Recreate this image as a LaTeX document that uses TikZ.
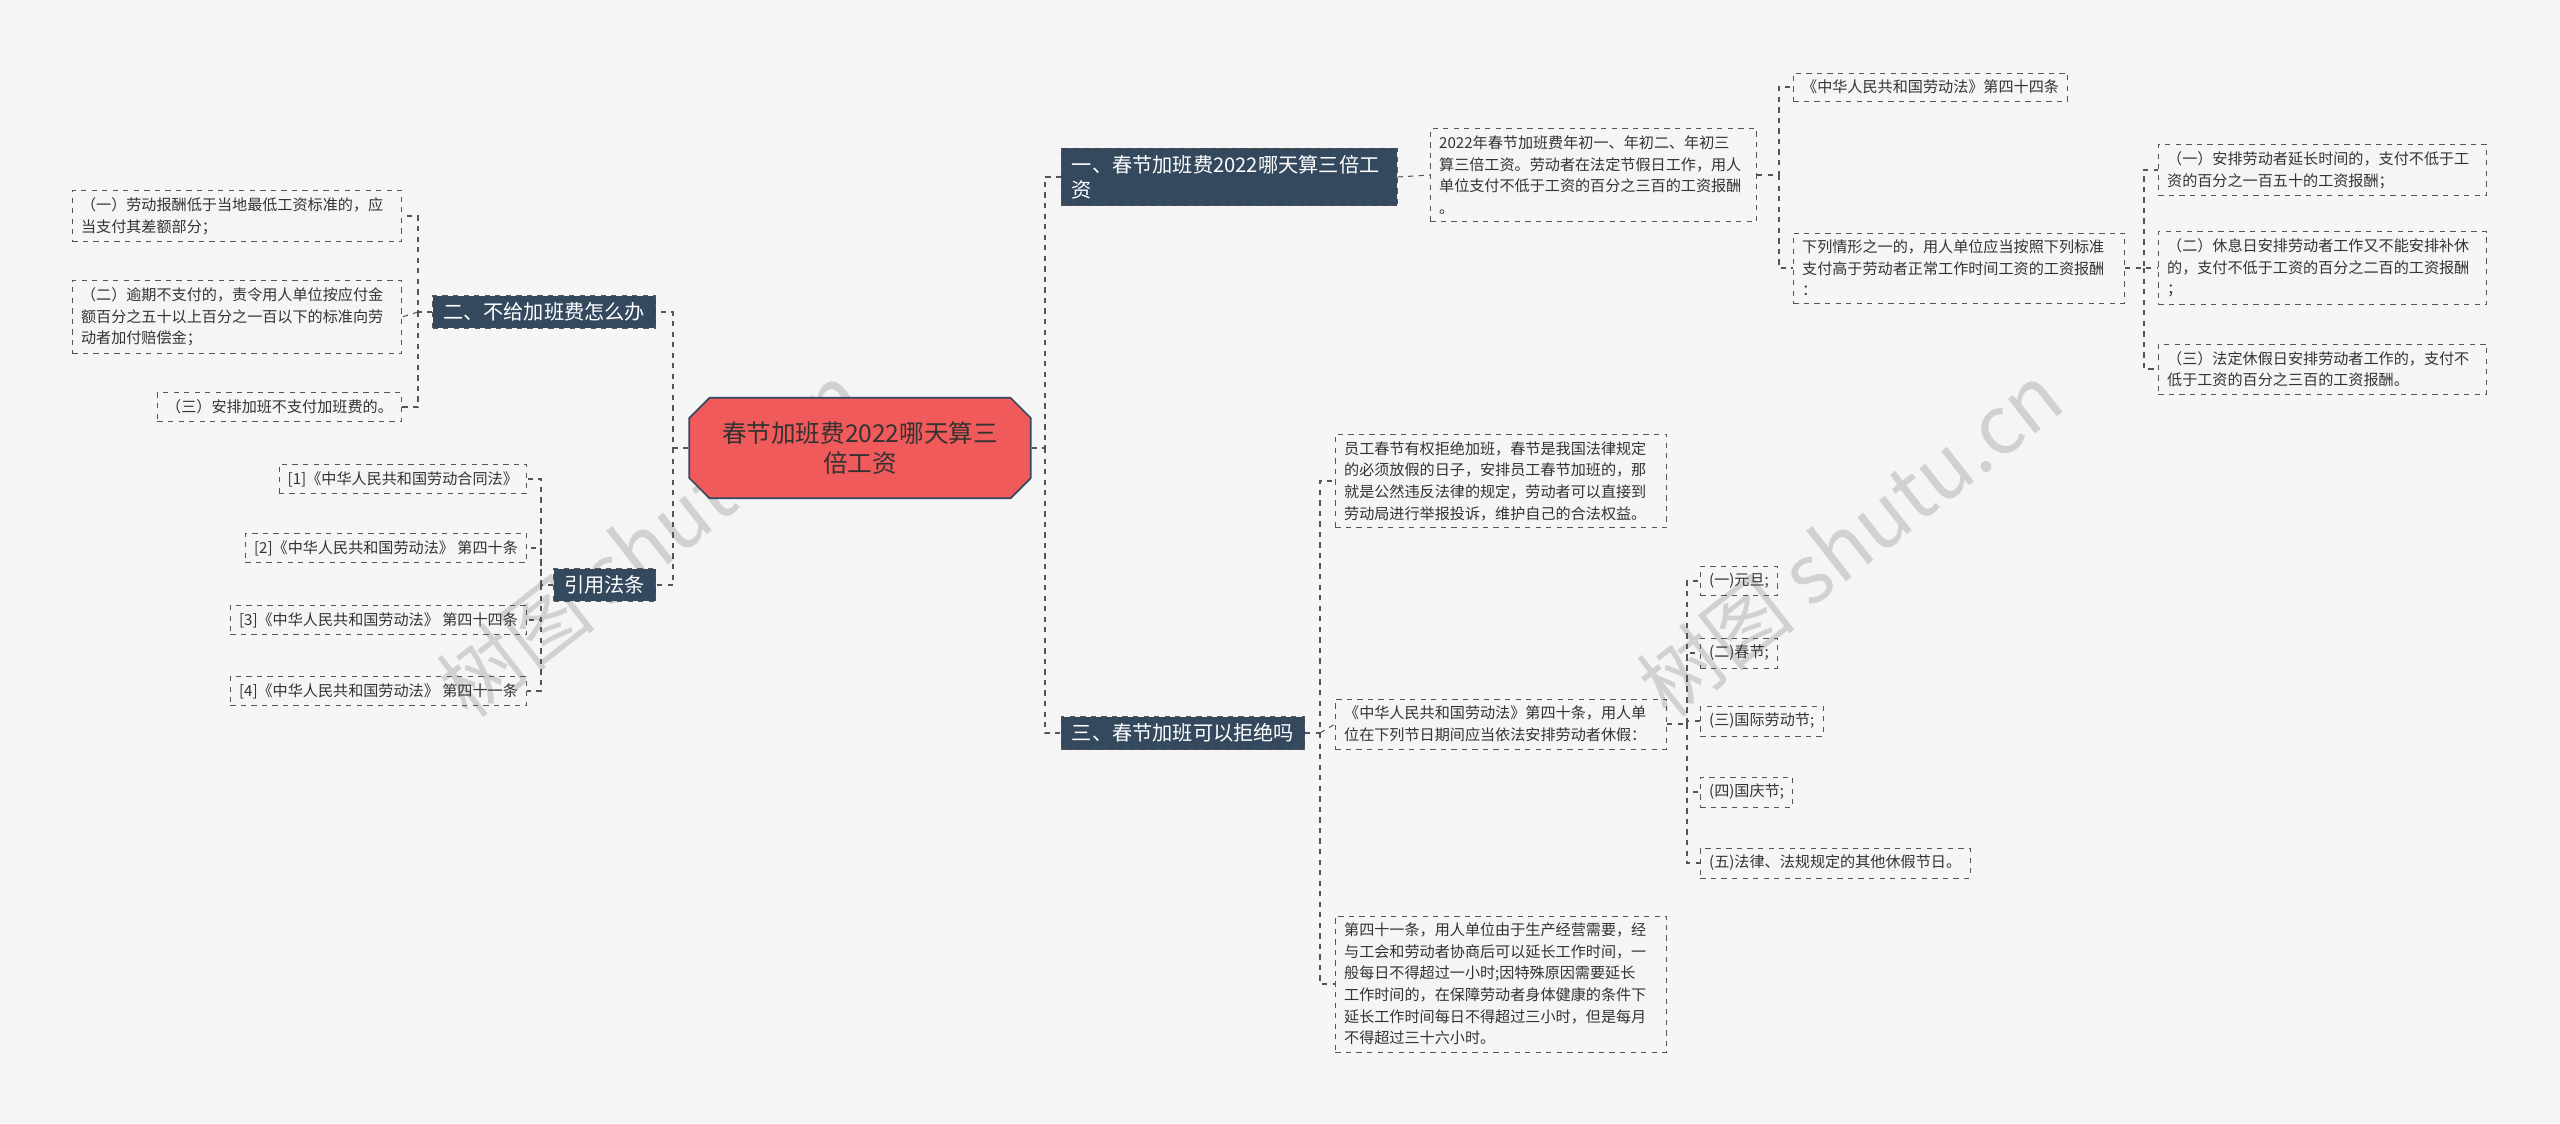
\documentclass[tikz,border=0pt]{standalone}
\usepackage{fontspec}
\setmainfont{Noto Sans CJK SC}
\usetikzlibrary{shapes.misc}
\definecolor{bgc}{HTML}{F5F5F5}
\definecolor{darkc}{HTML}{34495E}
\definecolor{rootc}{HTML}{F05A5A}
\definecolor{linec}{HTML}{555555}
\definecolor{txtc}{HTML}{333333}
\begin{document}
\begin{tikzpicture}[x=0.02cm, y=-0.02cm,
  leaf/.style={draw=linec, dashed, text=txtc, font=\fontsize{8.6}{12.3}\selectfont,
    align=left, inner xsep=5pt, inner ysep=4pt, anchor=west},
  branch/.style={fill=darkc, draw=linec, dashed, text=white, font=\fontsize{11.5}{14}\selectfont,
    align=left, inner xsep=6pt, inner ysep=4pt},
  link/.style={draw=linec, dashed, line width=0.6pt},
  wmark/.style={text=black!18, font=\fontsize{46}{46}\selectfont, rotate=38}]
  % Hintergrund.
  \fill[bgc] (0,0) rectangle (2560,1123);
  \useasboundingbox (0,0) rectangle (2560,1123);

  % Wasserzeichen.
  \node[wmark] (wm1) at (650,540) {树图 shutu.cn};
  \node[wmark] (wm2) at (1850,540) {树图 shutu.cn};

  % Wurzel.
  \node[chamfered rectangle, chamfered rectangle xsep=8pt, fill=rootc, draw=darkc, line width=1pt,
    font=\fontsize{14}{17}\selectfont, text=txtc, align=center, minimum width=343*0.567pt,
    minimum height=101*0.567pt, inner sep=2pt] (root) at (860,448)
    {春节加班费2022哪天算三\\倍工资};

  % Hauptaeste.
  \node[branch, text width=316*0.567pt, anchor=west] (b1) at (1061,177)
    {一、春节加班费2022哪天算三倍工\\资};
  \node[branch, anchor=west] (b3) at (1061,733) {三、春节加班可以拒绝吗};
  \node[branch, anchor=east] (b2) at (656,312) {二、不给加班费怎么办};
  \node[branch, anchor=east] (b4) at (656,585) {引用法条};

  \draw[link] (root.east) -- (1045,448) |- (b1.west);
  \draw[link] (1045,448) |- (b3.west);
  \draw[link] (root.west) -- (673,448) |- (b2.east);
  \draw[link] (673,448) |- (b4.east);

  % Ast eins.
  \node[leaf, text width=310*0.567pt] (a1) at (1430,175)
    {2022年春节加班费年初一、年初二、年初三\\算三倍工资。劳动者在法定节假日工作，用人\\单位支付不低于工资的百分之三百的工资报酬\\。};
  \node[leaf] (a2) at (1793,87) {《中华人民共和国劳动法》第四十四条};
  \node[leaf, text width=315*0.567pt] (a3) at (1793,268)
    {下列情形之一的，用人单位应当按照下列标准\\支付高于劳动者正常工作时间工资的工资报酬\\：};
  \node[leaf, text width=312*0.567pt] (a31) at (2158,170)
    {（一）安排劳动者延长时间的，支付不低于工\\资的百分之一百五十的工资报酬；};
  \node[leaf, text width=312*0.567pt] (a32) at (2158,268)
    {（二）休息日安排劳动者工作又不能安排补休\\的，支付不低于工资的百分之二百的工资报酬\\；};
  \node[leaf, text width=312*0.567pt] (a33) at (2158,369)
    {（三）法定休假日安排劳动者工作的，支付不\\低于工资的百分之三百的工资报酬。};

  \draw[link] (b1.east) -- (a1.west);
  \draw[link] (a1.east) -- (1779,175) |- (a2.west);
  \draw[link] (1779,175) |- (a3.west);
  \draw[link] (a3.east) -- (2144,268) |- (a31.west);
  \draw[link] (2144,268) |- (a33.west);
  \draw[link] (a3.east) -- (a32.west);

  % Ast drei.
  \node[leaf, text width=315*0.567pt] (c1) at (1335,481)
    {员工春节有权拒绝加班，春节是我国法律规定\\的必须放假的日子，安排员工春节加班的，那\\就是公然违反法律的规定，劳动者可以直接到\\劳动局进行举报投诉，维护自己的合法权益。};
  \node[leaf, text width=315*0.567pt] (c2) at (1335,724)
    {《中华人民共和国劳动法》第四十条，用人单\\位在下列节日期间应当依法安排劳动者休假：};
  \node[leaf, text width=315*0.567pt] (c3) at (1335,984)
    {第四十一条，用人单位由于生产经营需要，经\\与工会和劳动者协商后可以延长工作时间，一\\般每日不得超过一小时;因特殊原因需要延长\\工作时间的，在保障劳动者身体健康的条件下\\延长工作时间每日不得超过三小时，但是每月\\不得超过三十六小时。};
  \node[leaf] (c21) at (1700,581) {(一)元旦;};
  \node[leaf] (c22) at (1700,653) {(二)春节;};
  \node[leaf] (c23) at (1700,721) {(三)国际劳动节;};
  \node[leaf] (c24) at (1700,792) {(四)国庆节;};
  \node[leaf] (c25) at (1700,863) {(五)法律、法规规定的其他休假节日。};

  \draw[link] (b3.east) -- (1320,733) |- (c1.west);
  \draw[link] (1320,733) |- (c3.west);
  \draw[link] (1320,733) -- (c2.west);
  \draw[link] (c2.east) -- (1687,724) |- (c21.west);
  \draw[link] (1687,724) |- (c25.west);
  \foreach \n in {c22,c23,c24} \draw[link] (1687,724) |- (\n.west);

  % Ast zwei.
  \node[leaf, text width=313*0.567pt, anchor=east] (d1) at (402,216)
    {（一）劳动报酬低于当地最低工资标准的，应\\当支付其差额部分；};
  \node[leaf, text width=313*0.567pt, anchor=east] (d2) at (402,317)
    {（二）逾期不支付的，责令用人单位按应付金\\额百分之五十以上百分之一百以下的标准向劳\\动者加付赔偿金；};
  \node[leaf, anchor=east] (d3) at (402,407) {（三）安排加班不支付加班费的。};

  \draw[link] (b2.west) -- (418,312) |- (d1.east);
  \draw[link] (418,312) |- (d3.east);
  \draw[link] (418,312) -- (d2.east);

  % Gesetze.
  \node[leaf, anchor=east] (e1) at (527,479) {[1]《中华人民共和国劳动合同法》};
  \node[leaf, anchor=east] (e2) at (527,548) {[2]《中华人民共和国劳动法》 第四十条};
  \node[leaf, anchor=east] (e3) at (527,620) {[3]《中华人民共和国劳动法》 第四十四条};
  \node[leaf, anchor=east] (e4) at (527,691) {[4]《中华人民共和国劳动法》 第四十一条};

  \draw[link] (b4.west) -- (541,585) |- (e1.east);
  \foreach \n in {e2,e3,e4} \draw[link] (541,585) |- (\n.east);
\end{tikzpicture}
\end{document}
